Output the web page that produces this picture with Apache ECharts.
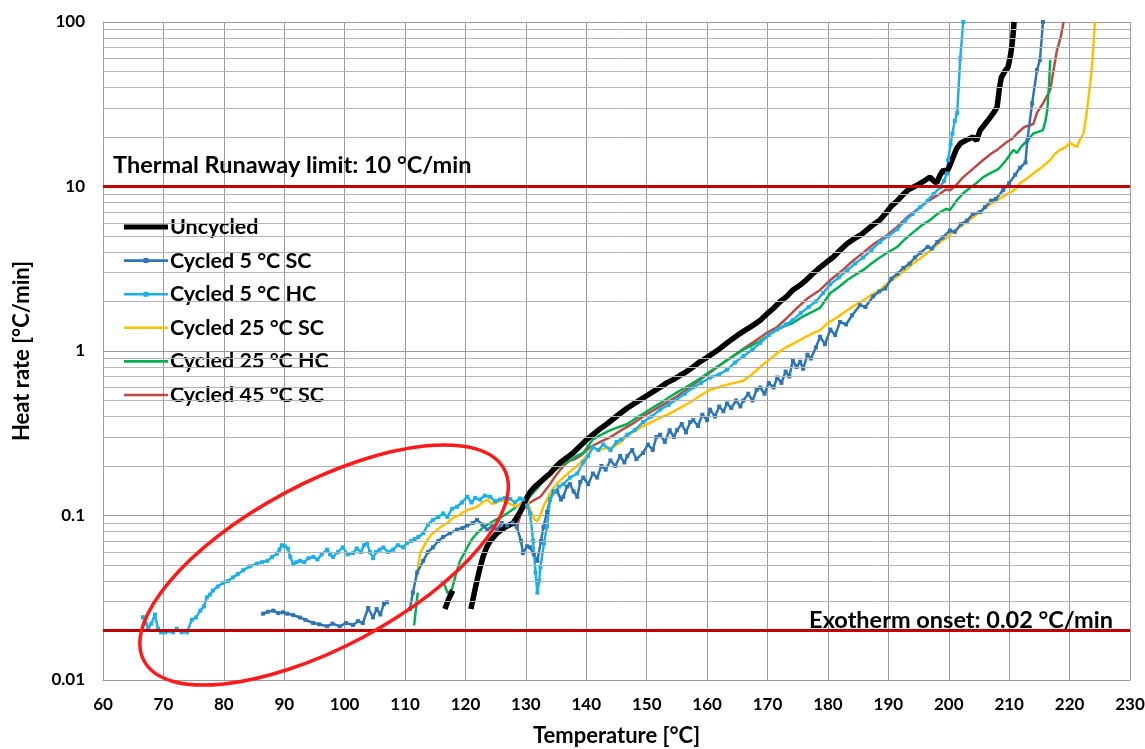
<!DOCTYPE html>
<html><head><meta charset="utf-8">
<script src="https://cdn.jsdelivr.net/npm/echarts@6/dist/echarts.min.js"></script>
<style>html,body{margin:0;padding:0;background:#fff}#c{width:1145px;height:749px}</style>
</head><body><div id="c"></div>
<script>
var xTicks = [60,70,80,90,100,110,120,130,140,150,160,170,180,190,200,210,220,230];
var yTickLabels = ['0.01','0.1','1','10','100'];
var seriesNames = ['Uncycled','Cycled 5 °C SC','Cycled 5 °C HC','Cycled 25 °C SC','Cycled 25 °C HC','Cycled 45 °C SC'];

var uncycled = [[116.6,0.027],[117.2,0.031],[117.9,0.035],[119,'-'],
[120.9,0.027],[121.4,0.033],[121.9,0.04],[122.4,0.048],[122.9,0.056],[123.5,0.064],[124.1,0.07],[125.2,0.078],[126.6,0.085],[127.9,0.09],[128.7,0.1],[129.5,0.113],[130.1,0.127],[130.7,0.139],[131.5,0.15],[132.4,0.16],[133.2,0.17],[134,0.18],[134.8,0.195],[135.7,0.21],[136.8,0.225],[137.8,0.24],[139,0.265],[140.1,0.29],[141.1,0.31],[142.2,0.335],[143.4,0.36],[144.6,0.39],[145.7,0.42],[146.8,0.45],[148,0.48],[149.1,0.51],[150.2,0.54],[151.2,0.57],[152.2,0.6],[153.3,0.64],[154.4,0.67],[155.5,0.71],[156.6,0.75],[157.7,0.8],[158.8,0.86],[159.9,0.91],[161,0.97],[162.2,1.04],[163.3,1.12],[164.4,1.2],[165.5,1.28],[166.6,1.36],[167.7,1.44],[168.8,1.54],[169.9,1.68],[171,1.82],[172.1,2.0],[173.2,2.15],[174.2,2.35],[175.3,2.5],[176.4,2.7],[177.5,2.95],[178.6,3.2],[179.7,3.45],[180.8,3.7],[182,4.1],[183.2,4.5],[184.3,4.8],[185.5,5.1],[186.6,5.5],[187.6,5.9],[188.6,6.25],[189.6,6.9],[190.5,7.6],[191.5,8.2],[192.4,8.9],[193.2,9.5],[194.1,9.9],[195,10.3],[195.9,10.8],[196.9,11.4],[197.5,10.8],[198,10.5],[198.6,11.8],[199.1,12.6],[199.6,12.2],[200.1,13.2],[200.7,15],[201.3,17],[202,18.4],[203,19.2],[204,20],[204.6,19],[205.2,22],[206.4,25],[207.4,28],[208,30.4],[208.4,40],[208.7,46],[209.4,51],[209.8,53],[210.2,62],[210.5,74],[210.7,88],[210.8,100]];

var cycled5SC = [[86.5,0.0253],[87.3,0.026],[88.2,0.0264],[89,0.0255],[89.8,0.0258],[90.5,0.0253],[91.5,0.0248],[92.6,0.024],[93.5,0.0232],[94.8,0.0222],[95.8,0.0218],[97.1,0.0212],[98,0.022],[99.2,0.0212],[100.2,0.0222],[101.4,0.0216],[102.2,0.0228],[103,0.0222],[103.9,0.0274],[104.7,0.024],[105.3,0.027],[105.9,0.025],[106.5,0.029],[107,0.0297],[109,'-'],
[110.8,0.027],[111.3,0.034],[112,0.045],[113,0.053],[113.8,0.06],[114.6,0.064],[115.5,0.07],[116.3,0.074],[117.4,0.078],[118.6,0.082],[119.5,0.084],[120.3,0.087],[121.2,0.09],[121.9,0.094],[122.8,0.088],[123.6,0.082],[124.4,0.086],[125.2,0.082],[126,0.09],[126.9,0.087],[127.8,0.09],[128.5,0.085],[129.2,0.07],[129.5,0.059],[130.2,0.065],[130.7,0.064],[131.3,0.058],[131.9,0.053],[132.5,0.07],[132.9,0.085],[133.5,0.105],[134,0.125],[134.6,0.14],[135.2,0.14],[135.8,0.125],[136.2,0.13],[136.8,0.15],[137.3,0.155],[137.9,0.14],[138.5,0.13],[139,0.16],[139.5,0.17],[140.3,0.155],[141.1,0.18],[141.8,0.17],[142.5,0.2],[143.2,0.19],[144,0.216],[144.8,0.2],[145.6,0.23],[146.3,0.21],[146.8,0.23],[147.6,0.25],[148.3,0.22],[149.4,0.24],[150.2,0.27],[151,0.25],[151.6,0.3],[152.2,0.31],[153,0.28],[153.8,0.33],[154.5,0.3],[155,0.33],[155.8,0.36],[156.5,0.32],[157.2,0.37],[157.7,0.38],[158.5,0.35],[159.2,0.41],[160,0.38],[160.5,0.44],[161.3,0.4],[162,0.46],[162.7,0.43],[163.3,0.48],[164,0.45],[164.8,0.5],[165.5,0.46],[166,0.5],[166.8,0.55],[167.5,0.5],[168.2,0.58],[168.8,0.6],[169.5,0.55],[170.2,0.64],[171,0.6],[171.6,0.69],[172.3,0.64],[173,0.75],[173.6,0.7],[174.2,0.88],[174.8,0.8],[175.4,0.86],[175.9,0.78],[176.6,0.95],[177.2,0.9],[178,1.05],[178.7,1.22],[179.5,1.1],[180.4,1.35],[181.2,1.25],[182,1.5],[183,1.45],[184,1.65],[185.3,1.9],[186.2,1.85],[187.5,2.15],[188.5,2.3],[189.5,2.4],[190.5,2.75],[191.5,2.95],[192.5,3.2],[193.5,3.4],[194.4,3.7],[195.3,3.95],[196.5,4.3],[197.2,4.2],[198.1,4.6],[199,4.9],[200.2,5.4],[201,5.3],[202,5.9],[203,6.2],[204,6.8],[205.2,7.0],[206,7.5],[207,8.2],[207.8,8.4],[209,9.5],[210,10.5],[211,11.8],[211.8,13],[212.7,14],[213,19],[213.8,32],[214.6,51],[215.1,59],[215.6,100]];

var cycled5HC = [[66.6,0.0241],[67.1,0.022],[67.5,0.0209],[68,0.022],[68.6,0.025],[69.1,0.0205],[69.6,0.0195],[70.3,0.0195],[71,0.0198],[71.6,0.0195],[72.2,0.0205],[73,0.0195],[73.9,0.0195],[74.7,0.0232],[75.4,0.024],[76.1,0.0264],[76.7,0.028],[77.2,0.0318],[77.7,0.033],[78.2,0.035],[79,0.037],[79.9,0.039],[80.7,0.04],[81.5,0.042],[82.3,0.044],[83.2,0.0465],[84.3,0.049],[85.5,0.051],[86.3,0.052],[87.2,0.053],[88,0.056],[88.8,0.0585],[89.2,0.062],[89.6,0.066],[90.1,0.065],[90.6,0.063],[91,0.056],[91.5,0.0505],[92,0.052],[92.6,0.053],[93.3,0.052],[94,0.055],[94.8,0.056],[95.5,0.054],[96.2,0.058],[97.1,0.062],[97.6,0.058],[98.1,0.056],[98.9,0.06],[99.7,0.064],[100.5,0.058],[101.4,0.059],[102,0.063],[102.7,0.06],[103.2,0.066],[103.7,0.068],[104.2,0.06],[104.7,0.055],[105.2,0.06],[105.8,0.062],[106.4,0.064],[107.2,0.06],[108,0.062],[108.8,0.066],[109.7,0.064],[110.3,0.068],[111,0.07],[111.6,0.072],[112.2,0.074],[113,0.078],[113.8,0.088],[114.6,0.094],[115.5,0.098],[116.3,0.103],[117,0.098],[117.8,0.11],[118.6,0.113],[119.4,0.12],[120.3,0.13],[121,0.12],[121.6,0.128],[122.4,0.125],[123.2,0.132],[124.1,0.13],[124.9,0.122],[125.7,0.125],[126.5,0.128],[127.4,0.126],[128.2,0.12],[129,0.127],[129.5,0.125],[130.2,0.115],[130.7,0.103],[131.2,0.07],[131.6,0.045],[131.9,0.034],[132.2,0.04],[132.4,0.0485],[133,0.068],[133.5,0.086],[134,0.125],[134.8,0.14],[135.5,0.15],[136.2,0.155],[137.3,0.17],[138.5,0.18],[139.5,0.21],[140.3,0.23],[141.1,0.26],[142,0.25],[142.8,0.27],[144,0.25],[145,0.28],[145.8,0.29],[146.8,0.31],[148,0.33],[149.4,0.37],[150.8,0.4],[152.2,0.44],[153.6,0.47],[155,0.51],[156.3,0.55],[157.7,0.6],[159,0.64],[160.5,0.69],[162,0.72],[163.3,0.77],[164.6,0.85],[166,0.93],[167.5,1.02],[168.8,1.12],[170.2,1.25],[171.6,1.35],[173,1.45],[174.2,1.54],[175.5,1.7],[176.8,1.85],[178,2.0],[179.2,2.25],[180.4,2.55],[181.8,2.8],[183.2,3.1],[184.5,3.4],[185.8,3.7],[187.2,4.1],[188.6,4.6],[190,5.0],[191.5,5.5],[192.8,6.2],[194,6.8],[195.3,7.5],[196.5,8.2],[197.5,9.0],[198.6,9.9],[199.2,10.8],[199.7,12],[199.9,14.5],[200.3,18],[200.6,21],[201,25],[201.4,28],[201.9,60],[202.4,100]];

var cycled25SC = [[111.8,0.042],[112.2,0.0495],[112.5,0.059],[113,0.064],[113.6,0.07],[114.4,0.077],[115.3,0.082],[116.1,0.086],[117,0.09],[117.8,0.096],[118.6,0.099],[119.5,0.104],[120.3,0.108],[121.1,0.11],[121.9,0.113],[122.8,0.12],[123.6,0.125],[124.4,0.118],[125.2,0.12],[126,0.125],[126.9,0.12],[127.7,0.116],[128.5,0.113],[129.3,0.12],[130.2,0.125],[130.6,0.112],[131,0.103],[131.4,0.095],[131.9,0.092],[132.4,0.1],[132.9,0.113],[133.7,0.13],[134.5,0.146],[135.4,0.16],[136.2,0.17],[137.3,0.185],[138.5,0.2],[139.3,0.215],[140.1,0.23],[141.1,0.26],[142,0.25],[143,0.255],[144.4,0.26],[145.8,0.28],[147,0.31],[148.3,0.33],[149.4,0.35],[150.8,0.37],[152,0.39],[153.5,0.41],[155,0.44],[156.4,0.47],[157.7,0.5],[159,0.54],[160.5,0.58],[161.8,0.6],[163,0.62],[164.5,0.64],[166,0.66],[167.4,0.72],[168.8,0.8],[170.2,0.88],[171.6,0.97],[173,1.05],[174.5,1.12],[176,1.2],[177.5,1.28],[178.7,1.34],[180,1.48],[181.5,1.6],[183,1.75],[184.5,1.9],[186,2.05],[187.3,2.2],[188.6,2.35],[190,2.6],[191.5,2.85],[192.8,3.1],[194.1,3.4],[195.5,3.7],[197,4.1],[198.3,4.5],[199.7,4.9],[201,5.4],[202.5,5.9],[204,6.5],[205.2,7.0],[206.5,7.6],[208,8.3],[209.5,8.9],[211,9.6],[211.8,10.5],[213,11.2],[214,12],[215.5,13.2],[216.8,14.5],[217.6,15.8],[218.4,16.7],[219.2,17.2],[220.1,18.4],[220.7,17.8],[221.2,17.4],[221.8,19.5],[222.3,21],[222.7,26],[223.1,33.6],[223.7,53],[224.2,100]];

var cycled25HC = [[111.5,0.0215],[111.8,0.027],[112.1,0.034],[114,'-'],
[115.9,0.04],[116.5,0.038],[117.1,0.0335],[117.8,0.036],[118.5,0.045],[119.1,0.053],[120.3,0.064],[121.1,0.072],[121.9,0.078],[123,0.085],[124.1,0.09],[125.2,0.095],[126.2,0.099],[127.4,0.106],[128.5,0.113],[129.4,0.12],[130.2,0.125],[131,0.135],[131.9,0.146],[132.7,0.16],[133.5,0.17],[134.6,0.185],[135.7,0.2],[136.5,0.21],[137.3,0.216],[138.4,0.23],[139.5,0.24],[140.3,0.265],[141.1,0.29],[142.5,0.31],[144,0.33],[145.4,0.345],[146.8,0.36],[148.2,0.39],[149.6,0.42],[150.9,0.45],[152.2,0.48],[153.6,0.52],[155,0.56],[156.4,0.6],[157.7,0.64],[159.1,0.69],[160.5,0.75],[161.9,0.81],[163.3,0.88],[164.7,0.95],[166,1.02],[167.4,1.08],[168.8,1.15],[170.2,1.25],[171.6,1.35],[172.9,1.42],[174.2,1.48],[175.6,1.6],[177,1.7],[178.7,1.83],[180.4,2.25],[181.8,2.45],[183.2,2.7],[184.5,2.9],[185.8,3.1],[187.2,3.4],[188.6,3.7],[190,4.0],[191.5,4.3],[192.8,4.8],[194.2,5.3],[195.5,5.8],[196.9,6.25],[198.3,6.9],[199.6,7.3],[200.2,7.2],[201.3,8.2],[202.4,9.1],[203.5,9.8],[204.6,10.5],[205.7,11.4],[206.8,12],[208,12.6],[208.5,13.1],[209.5,14.5],[210.7,16.7],[211.3,16],[212,17.5],[213,19],[214,21],[214.8,21.5],[215.6,22],[216,25],[216.3,29],[216.6,42],[216.8,59]];

var cycled45SC = [[128.5,0.085],[129,0.098],[129.5,0.108],[130.1,0.115],[130.7,0.12],[131.5,0.125],[132.4,0.13],[133.2,0.142],[134,0.155],[134.8,0.172],[135.7,0.19],[136.5,0.205],[137.3,0.216],[138.1,0.22],[139,0.23],[140.6,0.26],[142.3,0.28],[144,0.3],[145.8,0.33],[147.6,0.36],[149.4,0.4],[151.3,0.44],[153.1,0.48],[155,0.53],[156.8,0.59],[158.6,0.66],[160.5,0.74],[162.3,0.83],[164.1,0.92],[166,1.03],[167.8,1.14],[169.6,1.27],[171.6,1.4],[173.3,1.6],[174.9,1.83],[176.7,2.1],[178.7,2.35],[180.4,2.7],[182.2,3.05],[184,3.5],[185.8,3.95],[187.7,4.5],[189.6,5.0],[191.5,5.7],[193.3,6.6],[195.1,7.4],[196.9,8.3],[198.5,9.0],[199.5,9.6],[200.2,9.5],[201,10],[202.4,11.4],[204,12.8],[205.7,14.5],[207,15.8],[208,16.7],[209.5,18.5],[210.5,19.5],[211.3,21],[212.5,23],[213.3,23.5],[214,24],[214.6,28],[215.6,32],[216.8,38.6],[217.3,50],[217.9,67],[218.5,80],[219,100]];

var limitRunaway = 10;
var limitOnset = 0.02;
var ellipseCenter = [96.6, 0.05];

var minorGrid = [];
[0.01,0.1,1,10].forEach(function(d){ for (var k=2;k<=9;k++) minorGrid.push({yAxis: +(d*k).toPrecision(3)}); });

var FONT = 'Lato';
var ICON_THICK = 'path://M0,4.5L44,4.5L44,9.5L0,9.5Z';
var ICON_LINE = 'path://M0,5.7L44,5.7L44,8.3L0,8.3Z';
var ICON_MARK = 'path://M0,5.7L19.5,5.7L19.5,4.5L24.5,4.5L24.5,5.7L44,5.7L44,8.3L24.5,8.3L24.5,9.5L19.5,9.5L19.5,8.3L0,8.3Z';
var legendIcons = [ICON_THICK, ICON_MARK, ICON_MARK, ICON_LINE, ICON_LINE, ICON_LINE];

var chart = echarts.init(document.getElementById('c'), null, {renderer:'canvas'});
function lineSeries(name, data, color, width, marker) {
  return {
    name: name, type: 'line', data: data, z: 3,
    showSymbol: !!marker, symbol: marker ? 'rect' : 'none', symbolSize: 4,
    itemStyle: {color: color},
    lineStyle: {color: color, width: width},
    connectNulls: false, animation: false
  };
}
var option = {
  animation: false,
  backgroundColor: '#fff',
  grid: {left: 103, right: 15, top: 22, bottom: 69, containLabel: false, outerBoundsMode: 'none'},
  xAxis: {
    type: 'value', min: 60, max: 230, interval: 10,
    name: 'Temperature [°C]', nameLocation: 'middle', nameGap: 45,
    nameTextStyle: {fontFamily: FONT, fontWeight: 'bold', fontSize: 22, color: '#000'},
    axisLine: {show: true, lineStyle: {color: '#9a9a9a', width: 1}},
    axisTick: {show: false},
    axisLabel: {fontFamily: FONT, fontWeight: 'bold', fontSize: 17, color: '#000', margin: 16,
      formatter: function(v){ return xTicks.indexOf(v) >= 0 ? String(v) : ''; }},
    splitLine: {show: true, lineStyle: {color: '#9a9a9a', width: 1}}
  },
  yAxis: {
    type: 'log', logBase: 10, min: 0.01, max: 100,
    name: 'Heat rate [°C/min]', nameLocation: 'middle', nameGap: 70,
    nameTextStyle: {fontFamily: FONT, fontWeight: 'bold', fontSize: 22, color: '#000'},
    axisLine: {show: true, lineStyle: {color: '#9a9a9a', width: 1}},
    axisTick: {show: false},
    axisLabel: {fontFamily: FONT, fontWeight: 'bold', fontSize: 17, color: '#000', margin: 18,
      formatter: function(v){ var i = Math.round(Math.log10(v)) + 2; return yTickLabels[i] || ''; }},
    splitLine: {show: true, lineStyle: {color: '#9a9a9a', width: 1}}
  },
  legend: {
    orient: 'vertical', left: 119, top: 211,
    itemWidth: 44, itemHeight: 14, itemGap: 11.6,
    data: seriesNames.map(function(n, i){ return {name: n, icon: legendIcons[i]}; }),
    itemStyle: {borderWidth: 0},
    textStyle: {fontFamily: FONT, fontWeight: 'bold', fontSize: 21.5, color: '#000', padding: [0,0,0,-3]},
    selectedMode: false
  },
  series: [
    {name: 'minorGrid', type: 'line', data: [], z: 1, silent: true,
     markLine: {silent: true, symbol: 'none', animation: false, label: {show: false},
       lineStyle: {color: '#b4b4b4', width: 1, type: 'solid'}, data: minorGrid}},
    lineSeries(seriesNames[5], cycled45SC, '#b94a45', 2.5, false),
    lineSeries(seriesNames[4], cycled25HC, '#00b050', 2.5, false),
    lineSeries(seriesNames[3], cycled25SC, '#ffc000', 2.5, false),
    lineSeries(seriesNames[1], cycled5SC, '#2e75b6', 2.5, true),
    lineSeries(seriesNames[2], cycled5HC, '#1eaee8', 2.5, true),
    lineSeries(seriesNames[0], uncycled, '#000000', 5.5, false),
    {name: 'limits', type: 'line', data: [], z: 6, silent: true,
     markLine: {silent: true, symbol: 'none', animation: false,
       lineStyle: {color: '#c00000', width: 3, type: 'solid'},
       data: [
         {yAxis: limitRunaway, label: {show: true, position: 'insideStartTop', distance: [10, 9],
            formatter: 'Thermal Runaway limit: 10 °C/min',
            fontFamily: FONT, fontWeight: 'bold', fontSize: 23.5, color: '#000'}},
         {yAxis: limitOnset, label: {show: true, position: 'insideEndTop', distance: [17, -2],
            formatter: 'Exotherm onset: 0.02 °C/min',
            fontFamily: FONT, fontWeight: 'bold', fontSize: 23.5, color: '#000'}}
       ]}}
  ]
};
chart.setOption(option);
var c = chart.convertToPixel({gridIndex: 0}, ellipseCenter);
chart.setOption({graphic: [{type: 'ellipse', x: c[0], y: c[1], rotation: 28 * Math.PI / 180,
  shape: {cx: 0, cy: 0, rx: 204, ry: 82}, silent: true, z: 100,
  style: {fill: 'none', stroke: '#ff1a1a', lineWidth: 3.5}}]});
</script></body></html>
